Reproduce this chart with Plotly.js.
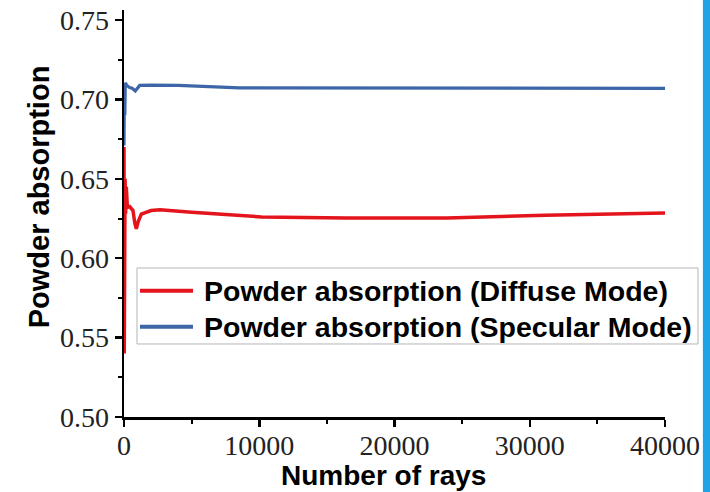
<!DOCTYPE html>
<html>
<head>
<meta charset="utf-8">
<script src="https://cdn.plot.ly/plotly-3.0.1.min.js"></script>
<style>
  html, body { margin: 0; padding: 0; background: #ffffff; }
  #chart { width: 710px; height: 492px; }
</style>
</head>
<body>
<div id="chart"></div>
<script>
// Data
const diffuseRays = [0, 20, 50, 80, 120, 170, 250, 420, 665, 800, 909, 1050, 1280, 2000, 2660, 5000, 10166, 16414, 23882, 31128, 40000];
const diffuseAbs  = [0.670, 0.540, 0.600, 0.650, 0.628, 0.645, 0.632, 0.6325, 0.630, 0.622, 0.6185, 0.623, 0.6278, 0.630, 0.6305, 0.629, 0.626, 0.6253, 0.6253, 0.6271, 0.6284];

const specularRays = [0, 30, 60, 96, 200, 421, 600, 835, 1000, 1160, 2000, 4000, 8540, 20000, 31000, 32000, 40000];
const specularAbs  = [0.671, 0.705, 0.690, 0.7105, 0.709, 0.7074, 0.707, 0.7053, 0.707, 0.7088, 0.709, 0.7088, 0.7073, 0.7073, 0.7073, 0.7069, 0.7069];

const seriesNames = ['Powder absorption (Diffuse Mode)', 'Powder absorption (Specular Mode)'];
const seriesColors = ['#e3141c', '#3d66a8'];
const xTitle = 'Number of rays';
const yTitle = 'Powder absorption';
const xTickVals = [0, 10000, 20000, 30000, 40000];
const yTickVals = [0.50, 0.55, 0.60, 0.65, 0.70, 0.75];

const traces = [
  { x: diffuseRays, y: diffuseAbs, mode: 'lines', name: seriesNames[0],
    line: { color: seriesColors[0], width: 3.5 } },
  { x: specularRays, y: specularAbs, mode: 'lines', name: seriesNames[1],
    line: { color: seriesColors[1], width: 3.2 } }
];

const tickFont = { family: 'Liberation Serif, Times New Roman, serif', size: 28, color: '#222' };
const titleFont = { family: 'Liberation Sans, Arial, sans-serif', size: 28, color: '#000', weight: 'bold' };
const legendFont = { family: 'Liberation Sans, Arial, sans-serif', size: 28.5, color: '#000', weight: 'bold' };

// legend (box, sample lines, labels) in paper coordinates
const legBox = { x0: 0.024, x1: 1.061, y0: 0.1794, y1: 0.3661 };
const legRowsY = [0.3103, 0.2219];
const legLineX = [0.0296, 0.1275];
const legTextX = 0.1442;

const shapes = [
  { type: 'rect', xref: 'paper', yref: 'paper', x0: legBox.x0, x1: legBox.x1, y0: legBox.y0, y1: legBox.y1,
    fillcolor: '#ffffff', line: { color: '#b5b5b5', width: 1 }, layer: 'above' },
  { type: 'rect', xref: 'paper', yref: 'paper', x0: 1.070, x1: 1.09, y0: -0.2, y1: 1.03,
    fillcolor: '#1ea3e6', line: { width: 0 }, layer: 'above' }
];
const annotations = [
  { text: xTitle, xref: 'paper', yref: 'paper', x: 0.48, y: -0.10, xanchor: 'center', yanchor: 'top',
    showarrow: false, font: titleFont },
  { text: yTitle, xref: 'paper', yref: 'paper', x: -0.157, y: 0.54, xanchor: 'center', yanchor: 'middle',
    textangle: -90, showarrow: false, font: Object.assign({}, titleFont, { size: 29 }) }
];
seriesNames.forEach((name, i) => {
  shapes.push({ type: 'line', xref: 'paper', yref: 'paper', x0: legLineX[0], x1: legLineX[1],
    y0: legRowsY[i], y1: legRowsY[i], line: { color: seriesColors[i], width: 4 }, layer: 'above' });
  annotations.push({ text: name, xref: 'paper', yref: 'paper', x: legTextX, y: legRowsY[i],
    xanchor: 'left', yanchor: 'middle', showarrow: false, font: legendFont });
});

const layout = {
  width: 710, height: 492,
  margin: { l: 124, r: 45, t: 10, b: 75 },
  paper_bgcolor: '#ffffff', plot_bgcolor: '#ffffff',
  showlegend: false,
  xaxis: {
    range: [0, 40000], tickvals: xTickVals, ticktext: xTickVals.map(String),
    showgrid: false, zeroline: false, showline: true, linecolor: '#000', linewidth: 2.5,
    ticks: 'outside', ticklen: 7, tickwidth: 2.5, tickcolor: '#000',
    minor: { dtick: 5000, tick0: 0, ticks: 'outside', ticklen: 4, tickwidth: 2, tickcolor: '#000' },
    tickfont: tickFont, ticklabelstandoff: -5, title: { text: '' }
  },
  yaxis: {
    range: [0.5, 0.7563], tickvals: yTickVals, ticktext: yTickVals.map(v => v.toFixed(2)),
    showgrid: false, zeroline: false, showline: true, linecolor: '#000', linewidth: 2.5,
    ticks: 'outside', ticklen: 7, tickwidth: 2.5, tickcolor: '#000',
    minor: { dtick: 0.025, tick0: 0.5, ticks: 'outside', ticklen: 4, tickwidth: 2, tickcolor: '#000' },
    tickfont: tickFont, ticklabelstandoff: 0, title: { text: '' }
  },
  annotations: annotations,
  shapes: shapes
};

Plotly.newPlot('chart', traces, layout, { displayModeBar: false, staticPlot: true });
</script>
</body>
</html>
